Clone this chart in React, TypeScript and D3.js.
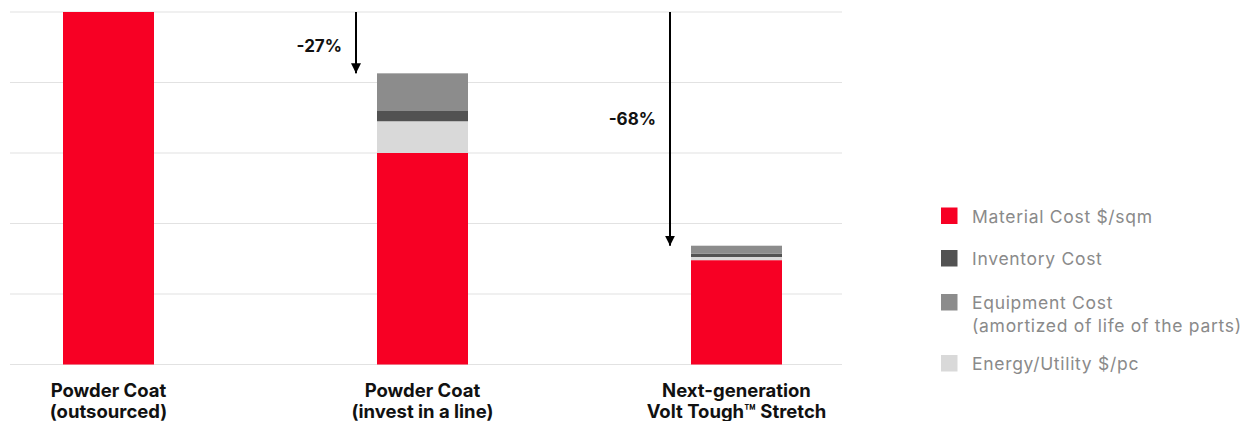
import React from "react";
import * as d3 from "d3";

const categories = ["Powder Coat\n(outsourced)", "Powder Coat\n(invest in a line)", "Next-generation\nVolt Tough™ Stretch"];
const materialCost = [100, 60, 29.6];
const energyCost = [0, 9, 0.9];
const inventoryCost = [0, 3.1, 0.9];
const equipmentCost = [0, 10.5, 2.3];
const yTicks = [0, 20, 40, 60, 80, 100];
const changeLabels = ["", "-27%", "-68%"];

const seriesKeys = ["material", "energy", "inventory", "equipment"];
const seriesColors: Record<string, string> = {
  material: "#F70024",
  energy: "#D9D9D9",
  inventory: "#525252",
  equipment: "#8C8C8C",
};
const legendItems = [
  { key: "material", lines: ["Material Cost $/sqm"] },
  { key: "inventory", lines: ["Inventory Cost"] },
  { key: "equipment", lines: ["Equipment Cost", "(amortized of life of the parts)"] },
  { key: "energy", lines: ["Energy/Utility $/pc"] },
];

export default function App() {
  const W = 1241, H = 421;
  const x = d3.scaleBand<string>().domain(categories).range([63, 782]).paddingInner(0.7102).paddingOuter(0);
  const y = d3.scaleLinear().domain([0, 100]).range([364.5, 12]);
  const rows = categories.map((c, i) => ({
    cat: c,
    material: materialCost[i],
    energy: energyCost[i],
    inventory: inventoryCost[i],
    equipment: equipmentCost[i],
  }));
  const stack = d3.stack<any>().keys(seriesKeys)(rows);
  const totals = rows.map((r) => r.material + r.energy + r.inventory + r.equipment);
  const font = "Inter, 'DejaVu Sans', sans-serif";
  const legendY = [216, 258.5, 302.5, 363.5];

  return (
    <svg width={W} height={H} style={{ position: "absolute", left: 0, top: 0 }} fontFamily={font}>
      <defs>
        <marker id="ah" viewBox="0 0 10 10" refX="10" refY="5" markerWidth="5" markerHeight="6" markerUnits="strokeWidth" orient="auto">
          <path d="M0,0 L10,5 L0,10 z" fill="#000" />
        </marker>
      </defs>
      {yTicks.map((t) => (
        <line key={t} x1={10} x2={842} y1={y(t)} y2={y(t)} stroke="#E2E2E2" strokeWidth={1.2} />
      ))}
      {stack.map((s) => (
        <g key={s.key} fill={seriesColors[s.key]}>
          {s.map((d, i) => {
            const h = y(d[0]) - y(d[1]);
            if (h <= 0) return null;
            return <rect key={i} x={x(categories[i])} y={y(d[1])} width={x.bandwidth()} height={h} />;
          })}
        </g>
      ))}
      {categories.map((c, i) => {
        if (!changeLabels[i]) return null;
        const ax = (x(c) as number) - 21;
        const yTop = y(100);
        const yEnd = y(totals[i]);
        const ly = i === 1 ? yTop + 40 : yTop + 113;
        return (
          <g key={c}>
            <line x1={ax} x2={ax} y1={yTop} y2={yEnd} stroke="#000" strokeWidth={2} markerEnd="url(#ah)" />
            <text x={ax - 14} y={ly} textAnchor="end" fontSize={17} fontWeight={700} fill="#111">{changeLabels[i]}</text>
          </g>
        );
      })}
      {categories.map((c) => {
        const cx = (x(c) as number) + x.bandwidth() / 2;
        return (
          <text key={c} textAnchor="middle" fontSize={18.5} fontWeight={700} fill="#111">
            {c.split("\n").map((l, j) => (
              <tspan key={j} x={cx} y={396.5 + j * 21}>{l}</tspan>
            ))}
          </text>
        );
      })}
      {legendItems.map((it, i) => (
        <g key={it.key}>
          <rect x={941} y={legendY[i] - 8.5} width={16.5} height={16.5} fill={seriesColors[it.key]} />
          <text fontSize={17.5} fill="#8A8A8A" letterSpacing={0.7}>
            {it.lines.map((l, j) => (
              <tspan key={j} x={972} y={legendY[i] + 6.5 + j * 23}>{l}</tspan>
            ))}
          </text>
        </g>
      ))}
    </svg>
  );
}
